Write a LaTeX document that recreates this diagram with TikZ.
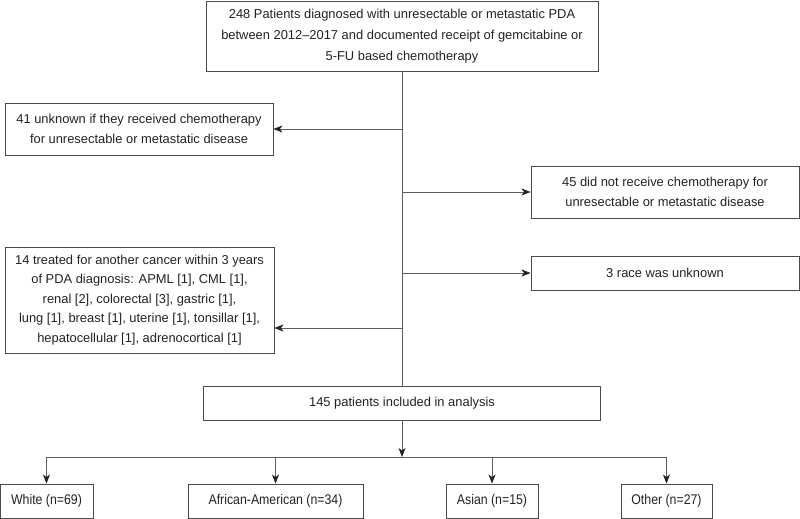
\documentclass[tikz,border=0pt]{standalone}
\usepackage{fontspec}
\setmainfont{Liberation Sans}
\newfontfamily\narrowfont[FakeStretch=0.88]{Liberation Sans}
\usepackage{xcolor}
\definecolor{boxbd}{HTML}{4A4A4A}
\definecolor{linegray}{HTML}{5E5E5E}
\definecolor{txt}{HTML}{222222}
\usetikzlibrary{positioning, arrows.meta, calc}

\begin{document}
\begin{tikzpicture}[
  x=1pt, y=-1pt,
  box/.style={draw=boxbd, line width=0.9pt, inner sep=0pt, align=center,
              text=txt, font=\fontsize{12.9}{19.5}\selectfont},
  race/.style={box, minimum height=34pt, font=\narrowfont\fontsize{14}{16}\selectfont},
  arrow/.style={-{Stealth[length=9pt, width=7pt, inset=2.5pt, color=txt]}, draw=linegray, line width=0.9pt},
  link/.style={draw=linegray, line width=0.9pt},
]
\useasboundingbox (0,0) rectangle (800,519);

% --- Cohort ---
\node[box, minimum width=392pt, minimum height=70pt, font=\fontsize{12.9}{21}\selectfont] (cohort) at (402, 36)
  {248 Patients diagnosed with unresectable or metastatic PDA\\between 2012--2017 and documented receipt of gemcitabine or\\5-FU based chemotherapy};

% --- Exclusions ---
\node[box, minimum width=268pt, minimum height=52pt] (unk) at (139, 129)
  {41 unknown if they received chemotherapy\\for unresectable or metastatic disease};
\node[box, minimum width=268pt, minimum height=52pt] (nochemo) at (665, 192)
  {45 did not receive chemotherapy for\\unresectable or metastatic disease};
\node[box, minimum width=269pt, minimum height=106pt] (cancer) at (139.5, 300)
  {14 treated for another cancer within 3 years\\of PDA diagnosis: APML [1], CML [1],\\renal [2], colorectal [3], gastric [1],\\lung [1], breast [1], uterine [1], tonsillar [1],\\hepatocellular [1], adrenocortical [1]};
\node[box, minimum width=268pt, minimum height=34pt] (race) at (665, 273) {3 race was unknown};

% --- Analysis ---
\node[box, minimum width=397pt, minimum height=34pt] (incl) at (402, 403) {145 patients included in analysis};

% --- Race groups ---
\node[race, minimum width=93pt] (white) at (46.5, 501) {White (n=69)};
\node[race, minimum width=175pt] (afam) at (275.5, 501) {African-American (n=34)};
\node[race, minimum width=92pt] (asian) at (492, 501) {Asian (n=15)};
\node[race, minimum width=91pt] (other) at (666.5, 501) {Other (n=27)};

% Arrows
\coordinate (c14) at (402, 328);
\coordinate (split) at (402, 457);
\draw[link] (cohort) -- (incl);
\draw[arrow] (unk.east -| cohort.south) -- (unk.east);
\draw[arrow] (nochemo.west -| cohort.south) -- (nochemo.west);
\draw[arrow] (c14) -- (c14 -| cancer.east);
\draw[arrow] (race.west -| cohort.south) -- (race.west);
\draw[arrow] (incl) -- (split);
\draw[link] (white.north |- split) -- (other.north |- split);
\foreach \grp in {white, afam, asian, other}
  \draw[arrow] (\grp.north |- split) -- (\grp.north);
\end{tikzpicture}
\end{document}
